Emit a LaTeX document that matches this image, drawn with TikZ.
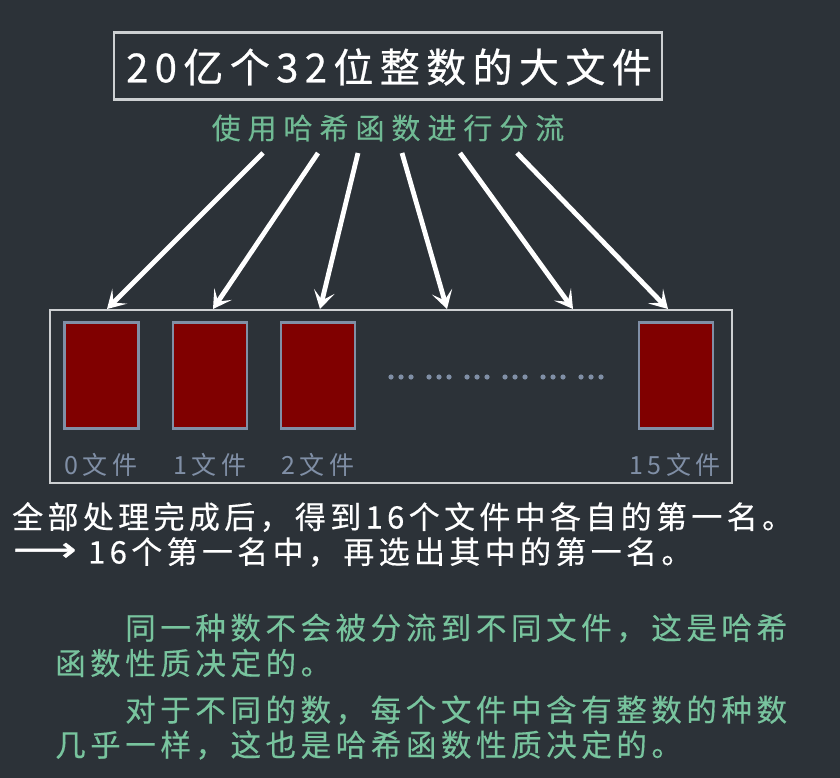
\documentclass[tikz,border=0pt]{standalone}
\usepackage{fontspec}
\usetikzlibrary{arrows.meta}
\newfontfamily\cjktitle[LetterSpace=16,FakeBold=0.6]{Noto Sans CJK SC}
\newfontfamily\cjksub[LetterSpace=24,FakeBold=0.3]{Noto Sans CJK SC}
\newfontfamily\cjklab[LetterSpace=18]{Noto Sans CJK SC}
\newfontfamily\cjkbody[LetterSpace=14,FakeBold=0.4]{Noto Sans CJK SC}
\newfontfamily\cjknote[LetterSpace=15,FakeBold=0.4]{Noto Sans CJK SC}
\newfontfamily\symfont[FakeBold=1.5]{DejaVu Sans}
\definecolor{bg}{RGB}{44,50,56}
\definecolor{mint}{RGB}{112,186,148}
\definecolor{mintb}{RGB}{120,196,158}
\definecolor{framegray}{RGB}{205,208,210}
\definecolor{filered}{RGB}{128,0,0}
\definecolor{slate}{RGB}{128,143,166}
\begin{document}
\begin{tikzpicture}[x=1pt,y=-1pt,
  frame/.style={draw=framegray,line width=2.6pt,inner sep=0pt},
  filebox/.style={draw=slate,fill=filered,line width=2.6pt,minimum width=74pt,minimum height=106pt,inner sep=0pt},
  filelabel/.style={text=slate,font=\cjklab\fontsize{25}{25}\selectfont,inner sep=0pt},
  flow/.style={draw=white,line width=4.8pt,-{Stealth[length=18pt,width=21pt,inset=9pt]}},
  bodytext/.style={text=white,font=\cjkbody\fontsize{31}{31}\selectfont,inner sep=0pt,anchor=west},
  notetext/.style={text=mintb,font=\cjknote\fontsize{30.5}{30.5}\selectfont,inner sep=0pt,anchor=west},
  dot/.style={fill=slate,draw=none}]
\fill[bg] (0,0) rectangle (840,778);
\useasboundingbox (0,0) rectangle (840,778);

% title and the hashing caption
\node[frame,minimum width=548pt,minimum height=67pt] (title) at (388,66) {};
\node[text=white,font=\cjktitle\fontsize{40}{40}\selectfont,inner sep=0pt] (titletext) at (389,67) {20亿个32位整数的大文件};
\node[text=mint,font=\cjksub\fontsize{29}{29}\selectfont,inner sep=0pt] (hash) at (388,128) {使用哈希函数进行分流};

% the sixteen output files
\node[frame,minimum width=682pt,minimum height=173pt] (store) at (391,396.5) {};
\node[filebox] (f0) at (101.5,375.5) {};
\node[filebox] (f1) at (210,375.5) {};
\node[filebox] (f2) at (318,375.5) {};
\node[filebox] (f15) at (676,375.5) {};
% ellipsis between file 2 and file 15: six groups of three dots
\foreach \g in {0,...,5}
  \foreach \d in {0,1,2}
    \fill[dot] ({391+38*\g+10*\d},377) circle (2.6pt);
\node[filelabel] (l0) at (101,465) {0文件};
\node[filelabel] (l1) at (210,465) {1文件};
\node[filelabel] (l2) at (318,465) {2文件};
\node[filelabel] (l15) at (675,465) {15文件};

% hashing arrows
\coordinate (s1) at (263,153);
\coordinate (s2) at (318,153);
\coordinate (s3) at (358,153);
\coordinate (s4) at (402,153);
\coordinate (s5) at (460,153);
\coordinate (s6) at (517,153);
\coordinate (e1) at (107,309);
\coordinate (e2) at (213,309);
\coordinate (e3) at (320,309);
\coordinate (e4) at (447,309);
\coordinate (e5) at (573,309);
\coordinate (e6) at (668,309);
\foreach \i in {1,...,6} \draw[flow] (s\i) -- (e\i);

% conclusions
\node[bodytext] (res1) at (12,517) {全部处理完成后，得到16个文件中各自的第一名。};
\node[text=white,font=\symfont\fontsize{34}{34}\selectfont,inner sep=0pt,anchor=west] (then) at (13,552) {\scalebox{1.3}[1]{⟶}};
\node[bodytext] (res2) at (88,552) {16个第一名中，再选出其中的第一名。};

% notes on the hash function
\node[notetext] (n1) at (125,628) {同一种数不会被分流到不同文件，这是哈希};
\node[notetext] (n2) at (55,663) {函数性质决定的。};
\node[notetext] (n3) at (125,710) {对于不同的数，每个文件中含有整数的种数};
\node[notetext] (n4) at (55,745) {几乎一样，这也是哈希函数性质决定的。};
\end{tikzpicture}
\end{document}
